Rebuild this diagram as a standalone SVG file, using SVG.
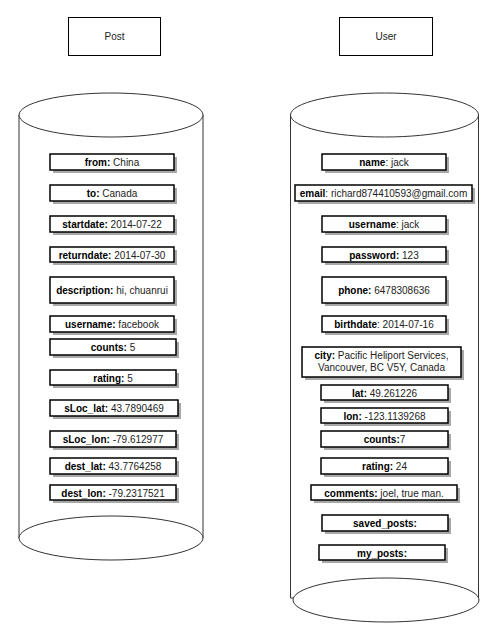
<svg xmlns="http://www.w3.org/2000/svg" width="493" height="632" viewBox="0 0 493 632">
<style>
.title{fill:#fff;stroke:#000;stroke-width:1}
.cyl{fill:#fff;stroke:#333;stroke-width:1}
.f{fill:#fff;stroke:#000;stroke-width:1.5}
.sh{fill:#a8a8a8}
text{font-family:"Liberation Sans",Arial,sans-serif;font-size:10px;fill:#222;text-anchor:middle}
.k{font-weight:bold;fill:#000}
</style>
<rect width="493" height="632" fill="#fff"/>
<g id="post-title"><rect class="title" x="68.5" y="17.5" width="92" height="38"/><text x="114.5" y="40">Post</text></g>
<g id="user-title"><rect class="title" x="339.5" y="17.5" width="93" height="38"/><text x="386" y="40">User</text></g>

<g id="post-db">
<path class="cyl" d="M19 115 L19 538 L203 538 L203 115"/>
<ellipse class="cyl" cx="111" cy="115" rx="92" ry="22"/>
<ellipse class="cyl" cx="111" cy="538" rx="92" ry="22"/>
</g>
<g id="user-db">
<path class="cyl" d="M290.5 115 L290.5 598 L478.5 598 L478.5 115"/>
<ellipse class="cyl" cx="384.5" cy="115" rx="94" ry="22"/>
<ellipse class="cyl" cx="386" cy="600" rx="93" ry="22"/>
</g>

<g id="p-from"><rect class="sh" x="53" y="157" width="124" height="16"/><rect class="f" x="50" y="154" width="124" height="16"/><text x="112" y="166"><tspan class="k">from:</tspan> China</text></g>
<g id="p-to"><rect class="sh" x="53" y="188" width="124" height="16"/><rect class="f" x="50" y="185" width="124" height="16"/><text x="112" y="197"><tspan class="k">to:</tspan> Canada</text></g>
<g id="p-startdate"><rect class="sh" x="53" y="219" width="124" height="16"/><rect class="f" x="50" y="216" width="124" height="16"/><text x="112" y="228"><tspan class="k">startdate:</tspan> 2014-07-22</text></g>
<g id="p-returndate"><rect class="sh" x="53" y="250" width="124" height="15"/><rect class="f" x="50" y="247" width="124" height="15"/><text x="112" y="258.5"><tspan class="k">returndate:</tspan> 2014-07-30</text></g>
<g id="p-description"><rect class="sh" x="53" y="280" width="124" height="26"/><rect class="f" x="50" y="277" width="124" height="26"/><text x="112" y="293.5"><tspan class="k">description:</tspan> hi, chuanrui</text></g>
<g id="p-username"><rect class="sh" x="53" y="319" width="124" height="16"/><rect class="f" x="50" y="316" width="124" height="16"/><text x="112" y="328"><tspan class="k">username:</tspan> facebook</text></g>
<g id="p-counts"><rect class="sh" x="53" y="342" width="126" height="16"/><rect class="f" x="50" y="339" width="126" height="16"/><text x="113" y="351"><tspan class="k">counts:</tspan> 5</text></g>
<g id="p-rating"><rect class="sh" x="53" y="373" width="126" height="15"/><rect class="f" x="50" y="370" width="126" height="15"/><text x="113" y="381.5"><tspan class="k">rating:</tspan> 5</text></g>
<g id="p-sloc-lat"><rect class="sh" x="53" y="403" width="128" height="16"/><rect class="f" x="50" y="400" width="128" height="16"/><text x="114" y="412"><tspan class="k">sLoc_lat:</tspan> 43.7890469</text></g>
<g id="p-sloc-lon"><rect class="sh" x="53" y="434" width="126" height="16"/><rect class="f" x="50" y="431" width="126" height="16"/><text x="113" y="443"><tspan class="k">sLoc_lon:</tspan> -79.612977</text></g>
<g id="p-dest-lat"><rect class="sh" x="53" y="461" width="126" height="16"/><rect class="f" x="50" y="458" width="126" height="16"/><text x="113" y="470"><tspan class="k">dest_lat:</tspan> 43.7764258</text></g>
<g id="p-dest-lon"><rect class="sh" x="53" y="488" width="126" height="15"/><rect class="f" x="50" y="485" width="126" height="15"/><text x="113" y="496.5"><tspan class="k">dest_lon:</tspan> -79.2317521</text></g>

<g id="u-name"><rect class="sh" x="325" y="157" width="124" height="16"/><rect class="f" x="322" y="154" width="124" height="16"/><text x="384" y="166"><tspan class="k">name</tspan>: jack</text></g>
<g id="u-email"><rect class="sh" x="298" y="188" width="177" height="16"/><rect class="f" x="295" y="185" width="177" height="16"/><text x="383.5" y="197"><tspan class="k">email</tspan>: richard874410593@gmail.com</text></g>
<g id="u-username"><rect class="sh" x="325" y="219" width="124" height="16"/><rect class="f" x="322" y="216" width="124" height="16"/><text x="384" y="228"><tspan class="k">username</tspan>: jack</text></g>
<g id="u-password"><rect class="sh" x="325" y="250" width="124" height="15"/><rect class="f" x="322" y="247" width="124" height="15"/><text x="384" y="258.5"><tspan class="k">password:</tspan> 123</text></g>
<g id="u-phone"><rect class="sh" x="325" y="280" width="124" height="26"/><rect class="f" x="322" y="277" width="124" height="26"/><text x="384" y="293.5"><tspan class="k">phone:</tspan> 6478308636</text></g>
<g id="u-birthdate"><rect class="sh" x="325" y="319" width="124" height="16"/><rect class="f" x="322" y="316" width="124" height="16"/><text x="384" y="328"><tspan class="k">birthdate</tspan>: 2014-07-16</text></g>
<g id="u-city"><rect class="sh" x="305" y="350" width="159" height="30"/><rect class="f" x="302" y="347" width="159" height="30"/><text x="381.5" y="359"><tspan class="k">city:</tspan> Pacific Heliport Services,</text><text x="381.5" y="370.5">Vancouver, BC V5Y, Canada</text></g>
<g id="u-lat"><rect class="sh" x="324" y="388" width="127" height="15"/><rect class="f" x="321" y="385" width="127" height="15"/><text x="384.5" y="396.5"><tspan class="k">lat:</tspan> 49.261226</text></g>
<g id="u-lon"><rect class="sh" x="324" y="411" width="127" height="15"/><rect class="f" x="321" y="408" width="127" height="15"/><text x="384.5" y="419.5"><tspan class="k">lon:</tspan> -123.1139268</text></g>
<g id="u-counts"><rect class="sh" x="324" y="434" width="127" height="16"/><rect class="f" x="321" y="431" width="127" height="16"/><text x="384.5" y="443"><tspan class="k">counts:</tspan>7</text></g>
<g id="u-rating"><rect class="sh" x="324" y="461" width="127" height="16"/><rect class="f" x="321" y="458" width="127" height="16"/><text x="384.5" y="470"><tspan class="k">rating:</tspan> 24</text></g>
<g id="u-comments"><rect class="sh" x="314" y="488" width="146" height="15"/><rect class="f" x="311" y="485" width="146" height="15"/><text x="384" y="496.5"><tspan class="k">comments:</tspan> joel, true man.</text></g>
<g id="u-saved-posts"><rect class="sh" x="325" y="518" width="126" height="16"/><rect class="f" x="322" y="515" width="126" height="16"/><text x="385" y="527" class="k">saved_posts:</text></g>
<g id="u-my-posts"><rect class="sh" x="322" y="548" width="126" height="15"/><rect class="f" x="319" y="545" width="126" height="15"/><text x="382" y="556.5" class="k">my_posts:</text></g>
<g id="connectors"></g>
</svg>
